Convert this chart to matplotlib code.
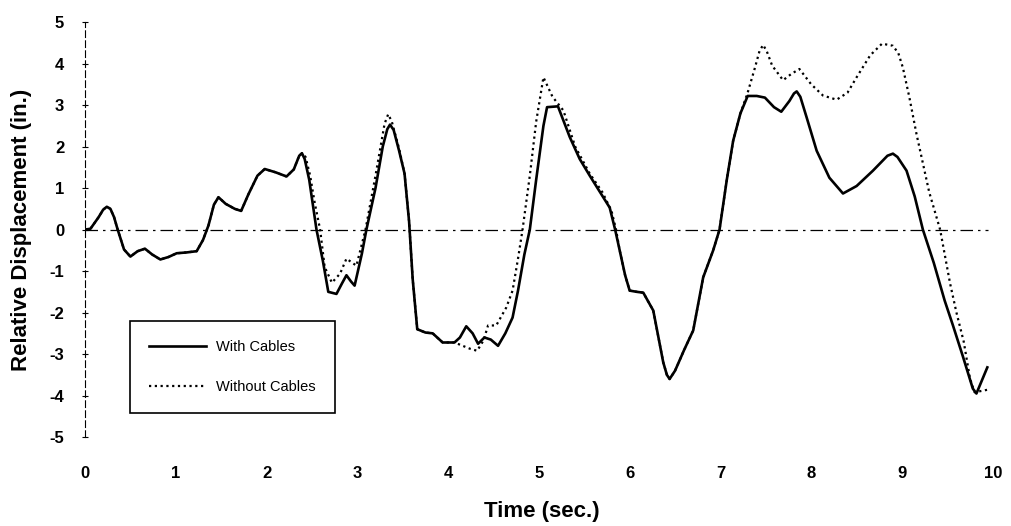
import matplotlib
matplotlib.use('Agg')
import matplotlib.pyplot as plt

# time (sec.) and relative displacement (in.)
t_with = [0, 0.06, 0.15, 0.2, 0.24, 0.28, 0.32, 0.36, 0.43, 0.5, 0.58, 0.66, 0.74, 0.83, 0.92,
          1.01, 1.12, 1.23, 1.3, 1.36, 1.42, 1.47, 1.55, 1.65, 1.72, 1.8, 1.9, 1.98,
          2.1, 2.22, 2.3, 2.36, 2.39, 2.42, 2.47, 2.51, 2.55, 2.62, 2.68, 2.77, 2.83, 2.88, 2.93,
          2.97, 3.05, 3.1, 3.2, 3.28, 3.33, 3.36, 3.4, 3.46, 3.52, 3.57, 3.61, 3.66, 3.75, 3.83,
          3.94, 4.07, 4.13, 4.2, 4.27, 4.33, 4.4, 4.47, 4.55, 4.63, 4.71, 4.77, 4.84,
          4.9, 4.97, 5.05, 5.09, 5.21, 5.34, 5.45, 5.56, 5.64, 5.78, 5.84, 5.89, 5.95,
          6.0, 6.08, 6.15, 6.26, 6.37, 6.41, 6.44, 6.5, 6.6, 6.7, 6.81, 6.92, 6.99, 7.07,
          7.14, 7.22, 7.3, 7.4, 7.49, 7.59, 7.67, 7.76, 7.81, 7.84, 7.88, 7.95, 8.06, 8.2, 8.35,
          8.5, 8.68, 8.84, 8.9, 8.95, 9.05, 9.14, 9.23, 9.35, 9.47, 9.56, 9.67, 9.78, 9.82,
          9.94]
d_with = [0, 0.02, 0.3, 0.48, 0.55, 0.5, 0.3, 0.0, -0.48, -0.65, -0.52, -0.46, -0.6, -0.72, -0.66,
          -0.57, -0.55, -0.52, -0.25, 0.1, 0.6, 0.78, 0.62, 0.5, 0.45, 0.85, 1.3, 1.46,
          1.38, 1.28, 1.45, 1.78, 1.84, 1.7, 1.2, 0.6, 0.0, -0.75, -1.5, -1.55, -1.3, -1.1, -1.25,
          -1.35, -0.58, 0.0, 1.0, 2.0, 2.42, 2.53, 2.4, 1.9, 1.35, 0.2, -1.2, -2.4, -2.48, -2.5,
          -2.72, -2.72, -2.6, -2.33, -2.5, -2.75, -2.6, -2.65, -2.8, -2.5, -2.12, -1.47, -0.6,
          0.0, 1.2, 2.5, 2.95, 2.97, 2.23, 1.7, 1.3, 1.02, 0.53, 0.0, -0.5, -1.1,
          -1.47, -1.5, -1.52, -1.95, -3.2, -3.5, -3.6, -3.4, -2.9, -2.43, -1.15, -0.5, 0.0, 1.2,
          2.14, 2.8, 3.22, 3.22, 3.18, 2.95, 2.84, 3.1, 3.28, 3.33, 3.2, 2.7, 1.9, 1.25, 0.87,
          1.05, 1.42, 1.78, 1.83, 1.75, 1.42, 0.8, 0.0, -0.8, -1.71, -2.3, -3.05, -3.83, -3.95,
          -3.32]

t_without = [0, 0.06, 0.15, 0.2, 0.24, 0.28, 0.32, 0.36, 0.43, 0.5, 0.58, 0.66, 0.74, 0.83, 0.92,
             1.01, 1.12, 1.23, 1.3, 1.36, 1.42, 1.47, 1.55, 1.65, 1.72, 1.8, 1.9, 1.98,
             2.1, 2.22, 2.3, 2.36, 2.39, 2.43, 2.48, 2.53, 2.59, 2.64, 2.72, 2.81, 2.88, 2.99, 3.06,
             3.09, 3.2, 3.3, 3.34, 3.38, 3.46, 3.52, 3.57, 3.61, 3.66, 3.75, 3.83, 3.94, 4.07, 4.24,
             4.32, 4.39, 4.44, 4.53, 4.64, 4.71, 4.77, 4.82, 4.9, 4.97, 5.05, 5.15, 5.27,
             5.4, 5.56, 5.7, 5.8, 5.85, 5.89, 5.95, 6.0, 6.08, 6.15, 6.26, 6.37, 6.41, 6.44,
             6.5, 6.6, 6.7, 6.81, 6.92, 6.99, 7.07, 7.14, 7.22, 7.3, 7.38, 7.43, 7.47, 7.51, 7.57,
             7.69, 7.78, 7.87, 8.0, 8.13, 8.28, 8.4, 8.5, 8.65, 8.78, 8.9, 8.96, 9.01,
             9.08, 9.16, 9.3, 9.42, 9.53, 9.6, 9.68, 9.75, 9.8, 9.94]
d_without = [0, 0.02, 0.3, 0.48, 0.55, 0.5, 0.3, 0.0, -0.48, -0.65, -0.52, -0.46, -0.6, -0.72, -0.66,
             -0.57, -0.55, -0.52, -0.25, 0.1, 0.6, 0.78, 0.62, 0.5, 0.45, 0.85, 1.3, 1.46,
             1.38, 1.28, 1.45, 1.78, 1.84, 1.75, 1.3, 0.65, 0.0, -0.9, -1.28, -1.06, -0.7, -0.87, -0.26,
             0.0, 1.3, 2.55, 2.78, 2.6, 1.95, 1.35, 0.2, -1.2, -2.4, -2.48, -2.5, -2.72, -2.72, -2.87,
             -2.92, -2.67, -2.31, -2.31, -1.88, -1.47, -0.7, 0.0, 1.3, 2.6, 3.67, 3.2, 2.87,
             2.0, 1.35, 0.9, 0.45, 0.0, -0.5, -1.1, -1.47, -1.5, -1.52, -1.95, -3.2, -3.5, -3.6,
             -3.4, -2.9, -2.43, -1.15, -0.5, 0.0, 1.2, 2.14, 2.8, 3.3, 3.9, 4.3, 4.45, 4.3, 3.95,
             3.6, 3.75, 3.87, 3.5, 3.23, 3.13, 3.3, 3.67, 4.2, 4.48, 4.43, 4.25, 3.9,
             3.2, 2.3, 0.9, 0.0, -1.3, -2.0, -2.7, -3.6, -3.92, -3.86]

x_ticks = [0, 1, 2, 3, 4, 5, 6, 7, 8, 9, 10]
y_ticks = [5, 4, 3, 2, 1, 0, -1, -2, -3, -4, -5]

plt.rcParams['font.family'] = ['Liberation Sans', 'DejaVu Sans']
plt.rcParams['font.weight'] = 'bold'
plt.rcParams['axes.unicode_minus'] = False

fig = plt.figure(figsize=(10.12, 5.26), dpi=100)
ax = fig.add_axes([0.084, 0.169, 0.897, 0.789])

# zero reference line
ax.axhline(0, xmax=0.995, color='black', lw=0.9, ls=(0, (10, 4, 2, 4)))

ax.plot(t_with, d_with, color='black', lw=1.9, label='With Cables')
ax.plot(t_without, d_without, color='black', lw=1.6, ls=(0, (1, 1.6)), label='Without Cables')

ax.set_xlim(0, 10)
ax.set_ylim(-5, 5)
ax.set_xticks(x_ticks)
ax.set_yticks(y_ticks)

for s in ['top', 'right', 'bottom']:
    ax.spines[s].set_visible(False)
ax.spines['left'].set_linestyle((0, (6, 3)))
ax.spines['left'].set_linewidth(0.8)

ax.tick_params(axis='x', length=0, pad=21, labelsize=12)
ax.tick_params(axis='y', direction='inout', length=4, width=0.8, pad=13, labelsize=12)

ax.set_xlabel('Time (sec.)', fontsize=16, fontweight='bold')
ax.set_ylabel('Relative Displacement (in.)', fontsize=16, fontweight='bold')
ax.xaxis.set_label_coords(0.503, -0.155)
ax.yaxis.set_label_coords(-0.058, 0.5)

leg = ax.legend(loc='upper left', bbox_to_anchor=(0.05, 0.28), fancybox=False,
                edgecolor='black', framealpha=1, borderpad=1.3, labelspacing=1.8,
                handlelength=3.9, handletextpad=0.7, borderaxespad=0,
                prop={'size': 10.5, 'weight': 'normal'})
leg.get_frame().set_linewidth(1.2)

fig.savefig('out.png', dpi=100)
